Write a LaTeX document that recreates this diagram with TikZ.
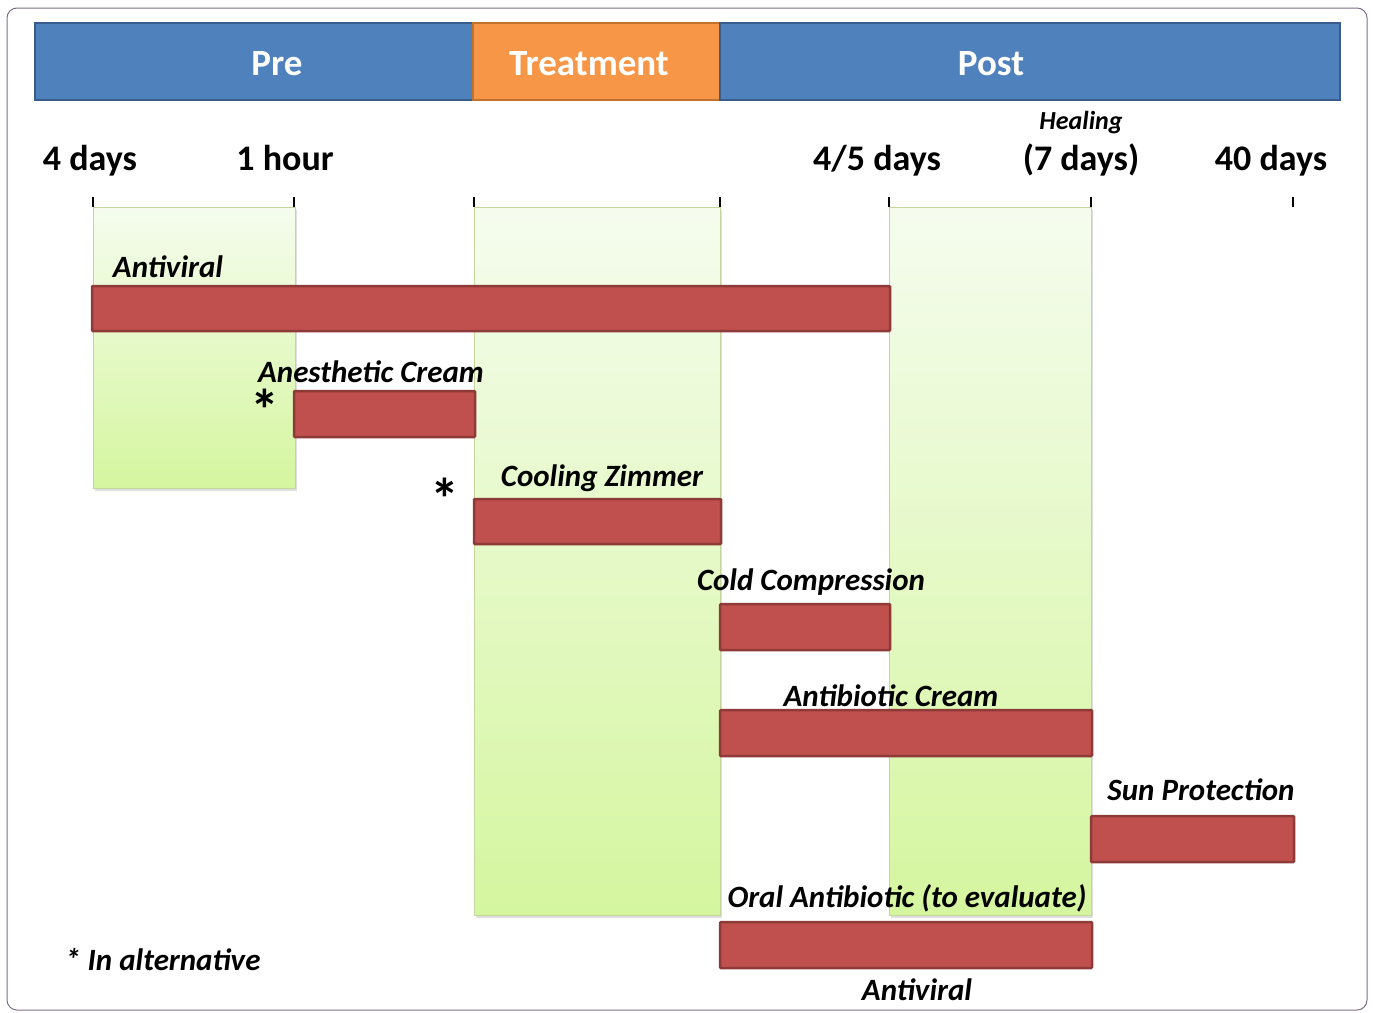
\documentclass[tikz,border=0pt]{standalone}
\usepackage{fontspec}
\setmainfont{Carlito}
\usetikzlibrary{shadows}
\definecolor{hdrblue}{HTML}{4F81BD}
\definecolor{hdrblueline}{HTML}{385D8A}
\definecolor{hdrorange}{HTML}{F79646}
\definecolor{hdrorangeline}{HTML}{C0722F}
\definecolor{barred}{HTML}{C0504D}
\definecolor{barredline}{HTML}{8E3A38}
\definecolor{greentop}{HTML}{F5FCEE}
\definecolor{greenbot}{HTML}{D5F69F}
\definecolor{greenline}{HTML}{C3D69B}
\definecolor{frameline}{HTML}{7E7088}

\begin{document}
\begin{tikzpicture}[x=1pt,y=-1pt]
\tikzstyle{every node}+=[inner sep=0pt]
\tikzstyle{hdr}=[line width=2pt]
\tikzstyle{hdrtext}=[anchor=base, text=white, font=\fontsize{37}{37}\selectfont\bfseries]
\tikzstyle{timetext}=[anchor=base, font=\fontsize{36}{36}\selectfont\bfseries]
\tikzstyle{phase}=[draw=greenline, line width=1pt, top color=greentop, bottom color=greenbot,
  drop shadow={opacity=0.25, shadow xshift=2pt, shadow yshift=-3pt}]
\tikzstyle{bar}=[draw=barredline, fill=barred, line width=2.5pt, rounded corners=1pt]
\tikzstyle{barlabel}=[anchor=base, font=\fontsize{31}{31}\selectfont\bfseries\itshape]
\tikzstyle{star}=[anchor=base, font=\fontsize{58}{58}\selectfont\bfseries]
\useasboundingbox (0,0) rectangle (1373,1012);
\draw [frameline, line width=1pt, rounded corners=10pt] (7,8) rectangle (1367,1010);
\draw [hdr, fill=hdrblue, draw=hdrblueline] (35,23) rectangle (473,100);
\draw [hdr, fill=hdrorange, draw=hdrorangeline] (473,23) rectangle (720,100);
\draw [hdr, fill=hdrblue, draw=hdrblueline] (720,23) rectangle (1340,100);
\draw (277,75) node [hdrtext] (pre) {Pre};
\draw (589,75) node [hdrtext] (treatment) {Treatment};
\draw (991,75) node [hdrtext] (post) {Post};
\draw (90,170) node [timetext] (t4days) {4 days};
\draw (285,170) node [timetext] (t1hour) {1 hour};
\draw (877,170) node [timetext] (t45days) {4/5 days};
\draw (1081,170) node [timetext] (t7days) {(7 days)};
\draw (1081,129) node [anchor=base, font=\fontsize{26}{26}\selectfont\bfseries\itshape] (healing) {Healing};
\draw (1271,170) node [timetext] (t40days) {40 days};
\draw [phase] (93,207) rectangle (295,488);
\draw [phase] (474,207) rectangle (720,915);
\draw [phase] (889,207) rectangle (1091,915);
\foreach \x in {93,294,474,720,889,1091,1293}
  \draw [black, line width=2pt] (\x,197) -- (\x,207);
\draw [bar] (92,286) rectangle (890,331);
\draw (168,277) node [barlabel] (antiviral) {Antiviral};
\draw [bar] (294,391) rectangle (475,437);
\draw (371,382) node [barlabel] (anesthetic) {Anesthetic Cream};
\draw (265,430) node [star] (staranesthetic) {*};
\draw [bar] (474,499) rectangle (721,544);
\draw (602,486) node [barlabel] (cooling) {Cooling Zimmer};
\draw (445,519) node [star] (starcooling) {*};
\draw [bar] (720,604) rectangle (890,650);
\draw (811,590) node [barlabel] (coldcomp) {Cold Compression};
\draw [bar] (720,710) rectangle (1092,756);
\draw (891,706) node [barlabel] (antibiotic) {Antibiotic Cream};
\draw [bar] (1091,816) rectangle (1294,862);
\draw (1201,800) node [barlabel] (sunprot) {Sun Protection};
\draw [bar] (720,922) rectangle (1092,968);
\draw (907,907) node [barlabel] (oralanti) {Oral Antibiotic (to evaluate)};
\draw (917,1000) node [barlabel] (antiviralpost) {Antiviral};
\draw (65,970) node [barlabel, anchor=base west] (legend) {* In alternative};
\end{tikzpicture}
\end{document}
